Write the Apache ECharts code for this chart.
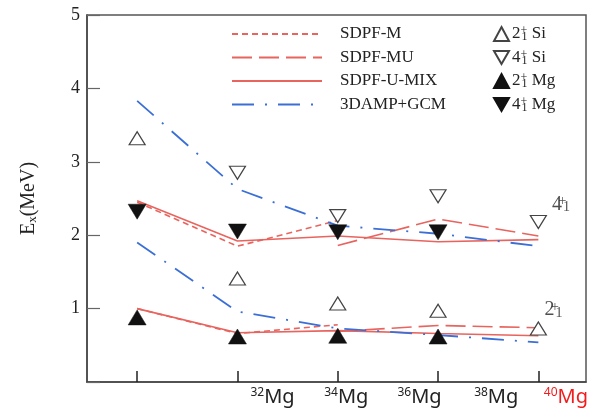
<!DOCTYPE html>
<html>
<head>
<meta charset="utf-8">
<script src="https://cdn.jsdelivr.net/npm/echarts@6/dist/echarts.min.js"></script>
<style>
  html, body { margin: 0; padding: 0; background: #fff; }
  #chart { width: 592px; height: 413px; }
</style>
</head>
<body>
<div id="chart"></div>
<script>
// mass number of each isotope (x position)
const isotopes = [30, 32, 34, 36, 38];
const tickLabels = ['32', '34', '36', '38', '40'];

// experiment, MeV
const siTwo = [3.32, 1.41, 1.07, 0.97, 0.73];
const siFour = [null, 2.85, 2.26, 2.53, 2.18];
const mgTwo = [0.88, 0.62, 0.63, 0.62, null];
const mgFour = [2.32, 2.05, 2.04, 2.04, null];

// theory, MeV
const sdpfMTwo = [1.0, 0.66, 0.78, null, null];
const sdpfMFour = [2.45, 1.85, 2.2, null, null];
const sdpfMUTwo = [null, null, 0.69, 0.77, 0.74];
const sdpfMUFour = [null, null, 1.86, 2.22, 1.99];
const mixTwo = [1.0, 0.67, 0.7, 0.66, 0.63];
const mixFour = [2.47, 1.92, 1.99, 1.91, 1.94];
const gcmTwo = [1.9, 0.96, 0.73, 0.64, 0.54];
const gcmFour = [3.83, 2.63, 2.13, 2.02, 1.85];

const RED = '#e8645e';
const BLUE = '#3b6fd6';
const SERIF = '"Liberation Serif", "DejaVu Serif", serif';
const UP = 'triangle';
const DOWN = 'path://M0,0L20,0L10,17.3Z';

function pairs(ys) {
  const out = [];
  ys.forEach((y, i) => {
    if (y !== null) out.push([isotopes[i], y]);
  });
  return out;
}

function lineSeries(name, ys, color, type, width) {
  return {
    name: name,
    type: 'line',
    data: pairs(ys),
    symbol: 'none',
    z: 2,
    lineStyle: { color: color, width: width, type: type },
    itemStyle: { color: color },
  };
}

function markerSeries(name, ys, filled, down) {
  return {
    name: name,
    type: 'scatter',
    data: pairs(ys),
    symbol: down ? DOWN : UP,
    symbolSize: filled ? [18, 15] : [16, 13],
    z: 5,
    itemStyle: filled
      ? { color: '#111', borderColor: '#111', borderWidth: 0.5, opacity: 1 }
      : { color: '#fff', borderColor: '#444', borderWidth: 1.2, opacity: 1 },
  };
}

const markerNames = {
  siTwo: '2 Si',
  siFour: '4 Si',
  mgTwo: '2 Mg',
  mgFour: '4 Mg',
};

const supSub = {
  n: { fontFamily: SERIF, fontSize: 17, color: '#222', verticalAlign: 'middle' },
  p: { fontFamily: SERIF, fontSize: 12, color: '#222', width: 1, verticalAlign: 'top', padding: [0, 0, 8, 0] },
  b: { fontFamily: SERIF, fontSize: 12, color: '#222', verticalAlign: 'bottom', padding: [8, 0, 0, 0] },
};

const chart = echarts.init(document.getElementById('chart'));
chart.setOption({
  animation: false,
  grid: {
    left: 87,
    right: 6,
    top: 15,
    bottom: 31,
    show: true,
    borderColor: '#555',
    borderWidth: 1.5,
  },
  legend: [
    {
      orient: 'vertical',
      left: 226,
      top: 20,
      itemWidth: 90,
      itemHeight: 14,
      itemGap: 5.5,
      // hide the dot ECharts puts on line legend icons
      itemStyle: { opacity: 0, borderWidth: 0 },
      data: ['SDPF-M', 'SDPF-MU', 'SDPF-U-MIX', '3DAMP+GCM'],
      textStyle: {
        fontFamily: SERIF,
        fontSize: 17,
        color: '#222',
        lineHeight: 18,
        padding: [0, 0, 0, 13],
      },
    },
    {
      orient: 'vertical',
      left: 488,
      top: 20,
      itemWidth: 15,
      itemHeight: 14,
      itemGap: 5.5,
      data: [markerNames.siTwo, markerNames.siFour, markerNames.mgTwo, markerNames.mgFour],
      formatter: (name) => {
        const parts = name.split(' ');
        return '{n|' + parts[0] + '}{p|+}{b|1}{n| ' + parts[1] + '}';
      },
      textStyle: { lineHeight: 18, padding: [0, 0, 0, -2], rich: supSub },
    },
  ],
  xAxis: {
    type: 'value',
    min: 29,
    max: 38.95,
    splitLine: { show: false },
    axisLine: { lineStyle: { color: '#444', width: 1.5 } },
    axisTick: {
      inside: true,
      length: 11,
      customValues: isotopes,
      lineStyle: { color: '#222', width: 1.5 },
    },
    axisLabel: {
      customValues: [32.7, 34.17, 35.63, 37.16, 38.55],
      margin: 5,
      formatter: (v) => {
        const i = [32.7, 34.17, 35.63, 37.16, 38.55].indexOf(v);
        if (i < 0) return '';
        const red = tickLabels[i] === '40';
        return red
          ? '{rs|' + tickLabels[i] + '}{rm|Mg}'
          : '{s|' + tickLabels[i] + '}{m|Mg}';
      },
      rich: {
        s: { fontFamily: '"Noto Sans"', fontSize: 12, color: '#222', verticalAlign: 'top', padding: [0, 0, 6, 0] },
        m: { fontFamily: '"Noto Sans"', fontSize: 20, color: '#222' },
        rs: { fontFamily: '"Noto Sans"', fontSize: 12, color: '#f21c1c', verticalAlign: 'top', padding: [0, 0, 6, 0] },
        rm: { fontFamily: '"Noto Sans"', fontSize: 20, color: '#f21c1c' },
      },
    },
  },
  yAxis: {
    type: 'value',
    min: 0,
    max: 5,
    interval: 1,
    name: '{e|E}{x|x}{e|(MeV)}',
    nameLocation: 'middle',
    nameGap: 48,
    nameRotate: 90,
    nameTextStyle: {
      fontFamily: SERIF,
      fontSize: 20,
      color: '#222',
      rich: {
        e: { fontFamily: SERIF, fontSize: 20, color: '#222' },
        x: { fontFamily: SERIF, fontSize: 13, color: '#222', verticalAlign: 'bottom', padding: [7, 0, 0, 0] },
      },
    },
    splitLine: { show: false },
    axisLine: { lineStyle: { color: '#444', width: 1.5 } },
    axisTick: { inside: true, length: 13, lineStyle: { color: '#666', width: 1.2 } },
    axisLabel: {
      margin: 7,
      fontFamily: SERIF,
      fontSize: 18,
      color: '#222',
      formatter: (v) => (v === 0 ? '' : String(v)),
    },
  },
  series: [
    lineSeries('SDPF-M', sdpfMFour, RED, [6, 4], 1.6),
    lineSeries('SDPF-M', sdpfMTwo, RED, [6, 4], 1.6),
    lineSeries('SDPF-MU', sdpfMUFour, RED, [20, 7], 1.6),
    lineSeries('SDPF-MU', sdpfMUTwo, RED, [20, 7], 1.6),
    lineSeries('SDPF-U-MIX', mixFour, RED, 'solid', 1.6),
    lineSeries('SDPF-U-MIX', mixTwo, RED, 'solid', 1.6),
    lineSeries('3DAMP+GCM', gcmFour, BLUE, [22, 11, 2, 11], 1.8),
    lineSeries('3DAMP+GCM', gcmTwo, BLUE, [22, 11, 2, 11], 1.8),
    markerSeries(markerNames.siTwo, siTwo, false, false),
    markerSeries(markerNames.siFour, siFour, false, true),
    markerSeries(markerNames.mgTwo, mgTwo, true, false),
    markerSeries(markerNames.mgFour, mgFour, true, true),
    {
      name: 'levels',
      type: 'scatter',
      symbolSize: 0,
      silent: true,
      data: [[38.45, 2.42], [38.3, 0.98]],
      label: {
        show: true,
        position: 'inside',
        formatter: (p) => (p.dataIndex === 0 ? '{n|4}{p|+}{b|1}' : '{n|2}{p|+}{b|1}'),
        lineHeight: 20,
        rich: {
          n: { fontFamily: SERIF, fontSize: 20, color: '#222' },
          p: { fontFamily: SERIF, fontSize: 14, color: '#222', width: 1, verticalAlign: 'top', padding: [0, 0, 9, 0] },
          b: { fontFamily: SERIF, fontSize: 14, color: '#222', verticalAlign: 'bottom', padding: [9, 0, 0, 0] },
        },
      },
    },
  ],
});
</script>
</body>
</html>
